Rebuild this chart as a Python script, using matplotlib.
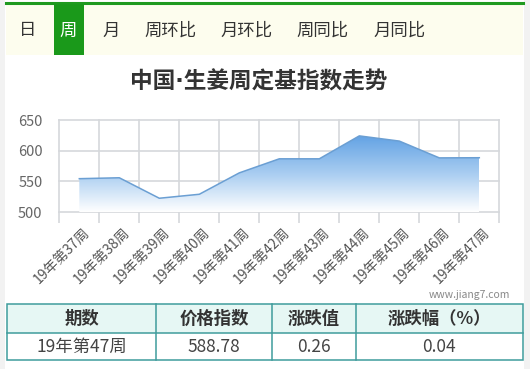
import matplotlib
matplotlib.use('Agg')
import matplotlib.pyplot as plt
import numpy as np
from matplotlib.patches import Rectangle, Polygon
from matplotlib.lines import Line2D
from matplotlib.colors import LinearSegmentedColormap
import matplotlib.transforms as mtransforms

plt.rcParams['font.family'] = ['Noto Sans CJK SC', 'DejaVu Sans']

# ---------------- data ----------------
tabs = ['日', '周', '月', '周环比', '月环比', '周同比', '月同比']
active_tab = '周'
title = '中国·生姜周定基指数走势'
weeks = ['19年第37周', '19年第38周', '19年第39周', '19年第40周', '19年第41周',
         '19年第42周', '19年第43周', '19年第44周', '19年第45周', '19年第46周',
         '19年第47周']
index_values = [554.5, 556.0, 522.5, 529.0, 564.0, 587.0, 587.0, 624.5, 616.0,
                588.52, 588.78]
y_ticks = [500, 550, 600, 650]
watermark = 'www.jiang7.com'
table_header = ['期数', '价格指数', '涨跌值', '涨跌幅（%）']
table_row = ['19年第47周', '588.78', '0.26', '0.04']

# ---------------- layout helpers ----------------
W, H = 530, 369
fig = plt.figure(figsize=(W / 100, H / 100), dpi=100)
fig.patch.set_facecolor('#f2f2f2')


def fx(x):
    return x / W


def fy(y):
    return 1 - y / H


def rect(x0, y0, x1, y1, **kw):
    r = Rectangle((fx(x0), fy(y1)), (x1 - x0) / W, (y1 - y0) / H,
                  transform=fig.transFigure, **kw)
    fig.add_artist(r)
    return r


def hline(x0, x1, y, **kw):
    fig.add_artist(Line2D([fx(x0), fx(x1)], [fy(y), fy(y)],
                          transform=fig.transFigure, **kw))


def vline(x, y0, y1, **kw):
    fig.add_artist(Line2D([fx(x), fx(x)], [fy(y0), fy(y1)],
                          transform=fig.transFigure, **kw))


# white panel
rect(5, 0, 523.5, 369, facecolor='white', edgecolor='none', zorder=0)

# tab bar
rect(6, 4, 523, 55, facecolor='#fdfdee', edgecolor='none', zorder=1)
hline(6, 523, 3, color='#1f9a1f', lw=2.2, zorder=2)
tab_centers = [28, 68.5, 111.5, 170, 247, 322.5, 399.5]
for t, cx in zip(tabs, tab_centers):
    if t == active_tab:
        rect(54, 4, 83.5, 54.5, facecolor='#1a991a', edgecolor='none', zorder=2)
        col = 'white'
    else:
        col = '#333333'
    fig.text(fx(cx), fy(30.5), t, ha='center', va='center', fontsize=12.5,
             color=col, zorder=3)

# title (DejaVu first so the middle dot stays narrow)
fig.text(fx(258.5), fy(82), title, ha='center', va='center', fontsize=16.3,
         fontweight='bold', color='#333333',
         family=['DejaVu Sans', 'Noto Sans CJK SC'])

# ---------------- chart ----------------
ax_left, ax_right, ax_top, ax_bottom = 59.3, 499.3, 120.3, 212.0
ax = fig.add_axes([fx(ax_left), fy(ax_bottom), (ax_right - ax_left) / W,
                   (ax_bottom - ax_top) / H])
ax.set_facecolor('none')
n = len(weeks)
xs = np.arange(n)
vals = np.array(index_values)

base = y_ticks[0]
verts = [(xs[0], base)] + list(zip(xs, vals)) + [(xs[-1], base)]
poly = Polygon(verts, facecolor='none', edgecolor='none')
ax.add_patch(poly)
cmap = LinearSegmentedColormap.from_list('g', ['#ffffff', '#a9cdf1', '#62a2e4'])
grad = np.linspace(0, 1, 256).reshape(-1, 1)
im = ax.imshow(grad, extent=[xs[0], xs[-1], base, vals.max()], origin='lower',
               cmap=cmap, aspect='auto', zorder=2, interpolation='bilinear')
im.set_clip_path(poly)
ax.plot(xs, vals, color='#6b9fd3', lw=1.1, zorder=3, solid_joinstyle='round')

ax.set_xlim(-0.5, n - 0.5)
ax.set_ylim(y_ticks[0], y_ticks[-1])

grid_col = '#d5d8dc'
ax.set_yticks(y_ticks)
ax.set_yticklabels([str(v) for v in y_ticks], fontsize=10.5, color='#666666')
ax.tick_params(axis='y', length=0, pad=12)

ax.set_xticks(xs)
ax.set_xticks(np.arange(-0.5, n, 1), minor=True)
ax.set_xticklabels(weeks, rotation=45, ha='right', va='top',
                   rotation_mode='anchor', fontsize=10, color='#555555')
ax.tick_params(axis='x', which='major', length=0, pad=9.5)
ax.tick_params(axis='x', which='minor', length=8, width=1.2, color=grid_col)
off = mtransforms.ScaledTranslation(3.5 / 100, 0, fig.dpi_scale_trans)
for lab in ax.get_xticklabels():
    lab.set_transform(lab.get_transform() + off)

ax.grid(axis='y', color=grid_col, lw=1.2, zorder=1)
ax.grid(axis='x', which='minor', color=grid_col, lw=1.2, zorder=1)
ax.set_axisbelow(True)
for tk in ax.xaxis.get_minor_ticks() + ax.yaxis.get_major_ticks():
    tk.gridline.set_clip_on(False)
for s in ax.spines.values():
    s.set_visible(False)

# watermark
fig.text(fx(510), fy(295.5), watermark, ha='right', va='center', fontsize=7.5,
         color='#888888')

# ---------------- table ----------------
t_left, t_right, t_top, t_mid, t_bot = 7, 522.5, 304, 333, 360
col_edges = [t_left, 156, 272, 356, t_right]
border = '#3f9c9c'
rect(t_left, t_top, t_right, t_mid, facecolor='#e6f7f4', edgecolor='none', zorder=1)
rect(t_left, t_top, t_right, t_bot, facecolor='none', edgecolor=border, lw=1.1, zorder=3)
hline(t_left, t_right, t_mid, color=border, lw=1.1, zorder=3)
for xe in col_edges[1:-1]:
    vline(xe, t_top, t_bot, color=border, lw=1.1, zorder=3)
for i, (h, v) in enumerate(zip(table_header, table_row)):
    cx = (col_edges[i] + col_edges[i + 1]) / 2
    fig.text(fx(cx), fy((t_top + t_mid) / 2 + 0.5), h, ha='center', va='center',
             fontsize=12.5, fontweight='bold', color='#333333', zorder=4)
    fig.text(fx(cx), fy((t_mid + t_bot) / 2 + 0.5), v, ha='center', va='center',
             fontsize=12.5, color='#444444', zorder=4)

fig.savefig('out.png', dpi=100)
